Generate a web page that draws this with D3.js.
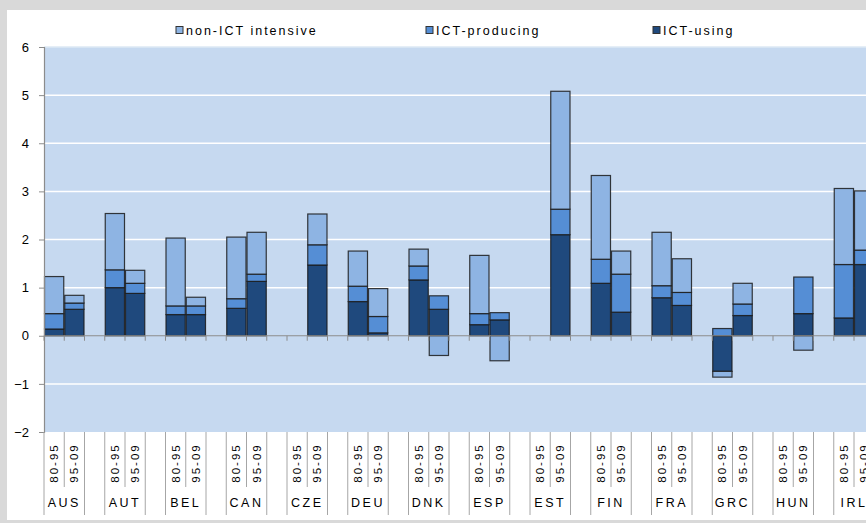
<!DOCTYPE html>
<html>
<head>
<meta charset="utf-8">
<script src="https://cdn.jsdelivr.net/npm/d3@7"></script>
<style>
  body { margin: 0; background: #d9d9d9; }
  svg { display: block; }
  text { font-family: "Liberation Sans", Arial, sans-serif; fill: #000; }
</style>
</head>
<body>
<svg id="chart" width="866" height="523"></svg>
<script>
// ---- data ----
const countries = ["AUS","AUT","BEL","CAN","CZE","DEU","DNK","ESP","EST","FIN","FRA","GRC","HUN","IRL"];
const periods = ["80-95","95-09"];
const seriesNames = ["non-ICT intensive","ICT-producing","ICT-using"];
// values per country: [80-95, 95-09]; null = no data
const ictUsing = [[0.14,0.55],[1.00,0.88],[0.44,0.44],[0.57,1.13],[null,1.47],[0.71,0.06],[1.16,0.55],
                  [0.23,0.33],[null,2.10],[1.09,0.49],[0.79,0.63],[-0.74,0.42],[null,0.46],[0.37,1.48]];
const ictProducing = [[0.32,0.13],[0.37,0.21],[0.18,0.18],[0.20,0.15],[null,0.42],[0.32,0.34],[0.29,0.28],
                  [0.23,0.15],[null,0.53],[0.50,0.79],[0.25,0.27],[0.15,0.24],[null,0.76],[1.11,0.30]];
const nonIct = [[0.77,0.16],[1.17,0.27],[1.41,0.18],[1.28,0.87],[null,0.64],[0.73,0.58],[0.35,-0.41],
                  [1.21,-0.52],[null,2.45],[1.74,0.48],[1.11,0.70],[-0.12,0.43],[null,-0.30],[1.58,1.23]];
const yTicks = [-2,-1,0,1,2,3,4,5,6];

// ---- build table ----
const slots = [];
countries.forEach((c, ci) => {
  periods.forEach((p, pi) => {
    slots.push({ id: c + "|" + p, country: c, period: p, ci, pi,
      using: ictUsing[ci][pi], producing: ictProducing[ci][pi], non: nonIct[ci][pi] });
  });
  slots.push({ id: c + "|gap", country: c, period: null, ci, pi: 2, using: null, producing: null, non: null });
});

const svg = d3.select("#chart");
const W = 866, H = 523;
svg.append("rect").attr("x", 0).attr("y", 0).attr("width", W).attr("height", H).attr("fill", "#d9d9d9");
svg.append("rect").attr("x", 7).attr("y", 10).attr("width", W - 7).attr("height", 510).attr("fill", "#ffffff");

const plotLeft = 44, plotTop = 47, plotBottom = 432;
const slotW = 20.25;
const x = d3.scaleBand().domain(slots.map(d => d.id))
  .range([plotLeft, plotLeft + slots.length * slotW]).padding(0);
const y = d3.scaleLinear().domain([-2, 6]).range([plotBottom, plotTop]);

// plot background
svg.append("rect").attr("x", plotLeft).attr("y", plotTop)
  .attr("width", W - plotLeft).attr("height", plotBottom - plotTop).attr("fill", "#c6d9f0");

// gridlines
svg.append("g").selectAll("line").data(yTicks.filter(t => t !== 0 && t !== -2)).join("line")
  .attr("x1", plotLeft).attr("x2", W).attr("y1", d => y(d)).attr("y2", d => y(d))
  .attr("stroke", t => t === 6 ? "#dde8f5" : "#ffffff").attr("stroke-width", 1.5);

// stacked bars
const colors = { using: "#1f497d", producing: "#558ed5", non: "#8eb4e3" };
const keys = ["using", "producing", "non"];
const stack = d3.stack().keys(keys).value((d, k) => d[k] == null ? 0 : d[k]).offset(d3.stackOffsetDiverging);
const stacked = stack(slots);
const barG = svg.append("g");
stacked.forEach(layer => {
  barG.append("g").selectAll("rect")
    .data(layer.filter(s => s.data[layer.key] != null && s.data[layer.key] !== 0))
    .join("rect")
    .attr("x", s => x(s.data.id) + 0.5)
    .attr("width", x.bandwidth() - 1)
    .attr("y", s => y(Math.max(s[0], s[1])))
    .attr("height", s => Math.abs(y(s[0]) - y(s[1])))
    .attr("fill", colors[layer.key])
    .attr("stroke", "#1a1a1a").attr("stroke-opacity", 0.85).attr("stroke-width", 1.2);
});

// zero axis line with ticks at slot boundaries
const bounds = d3.range(slots.length + 1).map(i => plotLeft + i * slotW);
svg.append("line").attr("x1", plotLeft).attr("x2", W).attr("y1", y(0)).attr("y2", y(0))
  .attr("stroke", "#8c8c8c").attr("stroke-width", 1.2);
svg.append("g").selectAll("line").data(bounds).join("line")
  .attr("x1", d => d).attr("x2", d => d).attr("y1", y(0)).attr("y2", y(0) + 5)
  .attr("stroke", "#8c8c8c").attr("stroke-width", 1);

// y axis
const yAxis = d3.axisLeft(y).tickValues(yTicks).tickSize(5).tickPadding(10).tickFormat(d3.format("d"));
const ya = svg.append("g").attr("transform", `translate(${plotLeft},0)`).call(yAxis);
ya.select(".domain").attr("stroke", "#8c8c8c").attr("stroke-width", 1.2);
ya.selectAll(".tick line").attr("stroke", "#8c8c8c");
ya.selectAll(".tick text").attr("font-size", 13).attr("fill", "#000")
  .style("font-family", "'Liberation Sans', Arial, sans-serif");

// category separator lines below plot
const sepG = svg.append("g");
bounds.forEach((bx, i) => {
  const inner = (i % 3) === 1; // between 80-95 and 95-09
  sepG.append("line").attr("x1", bx).attr("x2", bx)
    .attr("y1", plotBottom).attr("y2", inner ? 487 : 515)
    .attr("stroke", "#a6a6a6").attr("stroke-width", 1);
});

// period labels (rotated)
svg.append("g").selectAll("text").data(slots.filter(s => s.period)).join("text")
  .attr("transform", s => `translate(${x(s.id) + x.bandwidth() / 2 + 4},463) rotate(-90)`)
  .attr("text-anchor", "middle")
  .attr("font-size", 11.5).attr("letter-spacing", 2)
  .text(s => s.period);

// country labels
svg.append("g").selectAll("text").data(countries).join("text")
  .attr("x", (c, i) => x(c + "|80-95") + slotW)
  .attr("y", 507)
  .attr("text-anchor", "middle")
  .attr("font-size", 12.5).attr("letter-spacing", 2.5)
  .text(c => c);

// legend
const legendItems = [
  { name: seriesNames[0], color: colors.non, x: 176 },
  { name: seriesNames[1], color: colors.producing, x: 426 },
  { name: seriesNames[2], color: colors.using, x: 653 }
];
const lg = svg.append("g");
legendItems.forEach(it => {
  lg.append("rect").attr("x", it.x).attr("y", 26.5).attr("width", 7).attr("height", 7)
    .attr("fill", it.color).attr("stroke", "#333").attr("stroke-width", 1);
  lg.append("text").attr("x", it.x + 10).attr("y", 35).attr("font-size", 12.5)
    .attr("letter-spacing", 2).text(it.name);
});
</script>
</body>
</html>
